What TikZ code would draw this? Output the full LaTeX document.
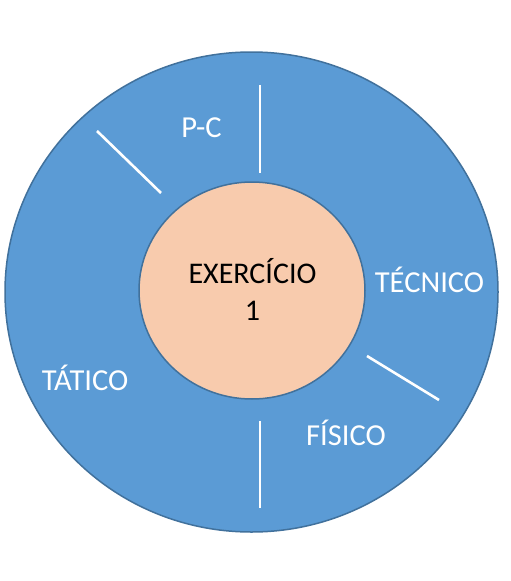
\documentclass[tikz,border=0pt]{standalone}
\usepackage{fontspec}
\setmainfont{Carlito}
\usetikzlibrary{shapes.geometric}
\definecolor{outerblue}{HTML}{5B9BD5}
\definecolor{edgeblue}{HTML}{41719C}
\definecolor{peach}{HTML}{F8CBAD}
\begin{document}
\begin{tikzpicture}[x=1pt,y=-1pt,
  sep/.style={white,line width=2.6pt},
  lbl/.style={white,font=\fontsize{30.5}{36}\selectfont,inner sep=0pt,anchor=base},
  ctr/.style={black,font=\fontsize{30}{37}\selectfont,align=center,inner sep=0pt,anchor=base}]
\useasboundingbox (0,0) rectangle (511,581);
\fill[white] (0,0) rectangle (511,581);
\node[ellipse,minimum width=493pt,minimum height=480pt,fill=outerblue,draw=edgeblue,line width=1.5pt,inner sep=0pt] (ring) at (251.5,292) {};
\node[ellipse,minimum width=226pt,minimum height=217pt,fill=peach,draw=edgeblue,line width=1.5pt,inner sep=0pt] (core) at (252,290.5) {};
\coordinate (a1) at (260,85); \coordinate (a2) at (260,173);
\coordinate (b1) at (260,421); \coordinate (b2) at (260,508);
\coordinate (c1) at (97,131); \coordinate (c2) at (161,193);
\coordinate (d1) at (367,356); \coordinate (d2) at (439,400);
\draw[sep] (a1) -- (a2);
\draw[sep] (b1) -- (b2);
\draw[sep] (c1) -- (c2);
\draw[sep] (d1) -- (d2);
\node[lbl] (pc) at (201.5,137) {P-C};
\node[lbl] (tec) at (429.5,292) {TÉCNICO};
\node[lbl] (tat) at (85,390) {TÁTICO};
\node[lbl] (fis) at (346,445.5) {FÍSICO};
\node[ctr] (ex) at (252.5,320) {EXERCÍCIO\\1};
\end{tikzpicture}
\end{document}
